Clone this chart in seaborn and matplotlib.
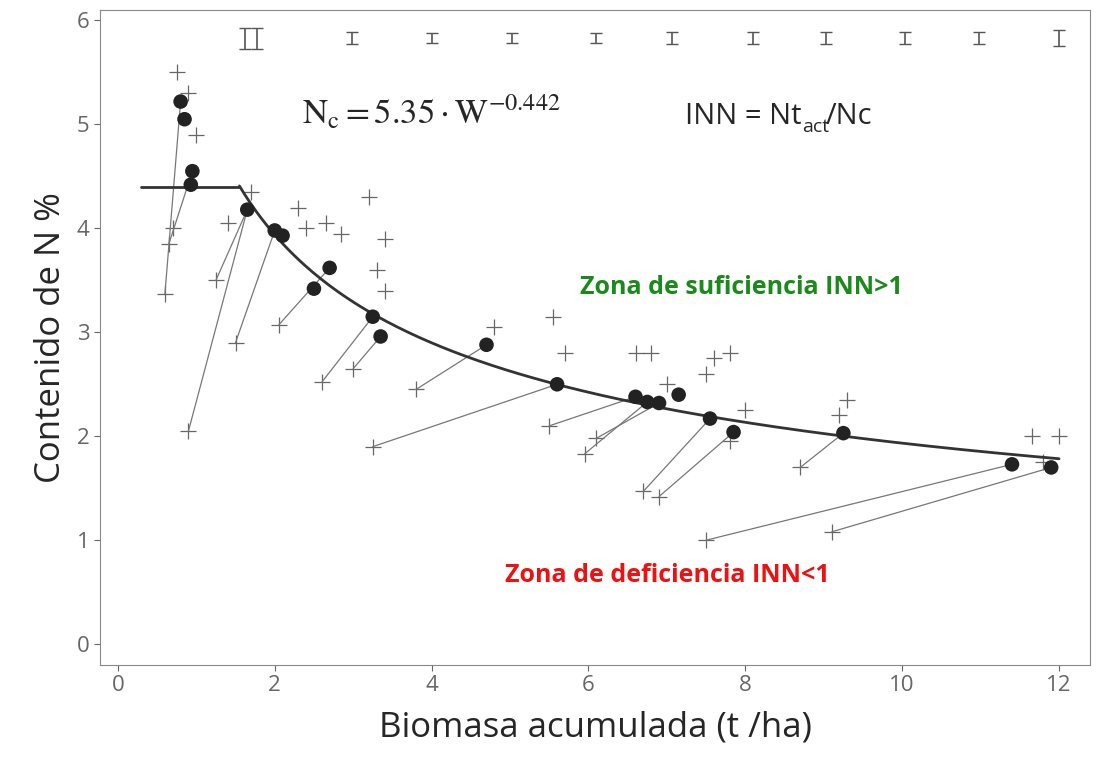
import numpy as np
import matplotlib.pyplot as plt
import seaborn as sns

# puntos medios (circulos)
dot_x = [0.8, 0.85, 0.95, 0.93, 1.65, 2.0, 2.1, 2.7, 2.5, 3.25, 3.35, 4.7, 5.6, 6.6, 6.75, 6.9, 7.15, 7.55, 7.85, 9.25, 11.4, 11.9]
dot_y = [5.22, 5.05, 4.55, 4.42, 4.18, 3.98, 3.93, 3.62, 3.42, 3.15, 2.96, 2.88, 2.5, 2.38, 2.33, 2.32, 2.4, 2.17, 2.04, 2.03, 1.73, 1.7]

# segmentos cruz -> circulo
seg_x0 = [0.6, 0.65, 0.9, 1.25, 1.5, 2.05, 2.6, 3.0, 3.8, 3.25, 5.5, 5.95, 6.1, 6.7, 6.9, 8.7, 7.5, 9.1]
seg_y0 = [3.37, 3.85, 2.05, 3.5, 2.9, 3.07, 2.52, 2.65, 2.45, 1.9, 2.1, 1.83, 1.98, 1.47, 1.42, 1.7, 1.0, 1.08]
seg_x1 = [0.8, 0.95, 1.65, 1.65, 2.0, 2.7, 3.25, 3.35, 4.7, 5.6, 6.6, 6.75, 6.9, 7.55, 7.85, 9.25, 11.4, 11.9]
seg_y1 = [5.22, 4.55, 4.18, 4.18, 3.98, 3.62, 3.15, 2.96, 2.88, 2.5, 2.38, 2.33, 2.32, 2.17, 2.04, 2.03, 1.73, 1.7]

# cruces sueltas
cr_x = [0.75, 0.9, 1.0, 0.7, 1.7, 1.4, 2.3, 2.4, 2.65, 2.85, 3.2, 3.3, 3.4, 3.4, 4.8, 5.55, 5.7, 6.6, 6.8, 7.5, 7.6, 7.8, 8.0, 7.0, 7.8, 9.3, 9.2, 11.65, 12.0, 11.8]
cr_y = [5.5, 5.3, 4.9, 4.0, 4.35, 4.05, 4.2, 4.0, 4.05, 3.95, 4.3, 3.6, 3.9, 3.4, 3.05, 3.15, 2.8, 2.8, 2.8, 2.6, 2.75, 2.8, 2.25, 2.5, 1.95, 2.35, 2.2, 2.0, 2.0, 1.75]

# barras de error arriba
eb_x = [1.62, 1.78, 2.99, 4.0, 5.03, 6.09, 7.07, 8.1, 9.03, 10.03, 10.98, 12.0]

sns.set_style('white')
plt.rcParams['font.family'] = ['Open Sans', 'DejaVu Sans']
fig = plt.figure(figsize=(10.97, 7.75), dpi=100)
ax = fig.add_axes([0.091, 0.142, 0.903, 0.845])

for a, b, c, d in zip(seg_x0, seg_y0, seg_x1, seg_y1):
    ax.plot([a, c], [b, d], color='#777777', lw=0.9)
ax.scatter(seg_x0 + cr_x, seg_y0 + cr_y, marker='+', s=140, color='#666666', linewidths=0.9)
sns.scatterplot(x=dot_x, y=dot_y, ax=ax, color='#222222', s=110, edgecolor='none', zorder=3)

w = np.linspace(1.55, 12.0, 300)
ax.plot([0.3, 1.55], [4.4, 4.4], color='#333333', lw=2)
ax.plot(w, 5.35 * w ** -0.442, color='#333333', lw=2)

ax.errorbar(eb_x, [5.83] * len(eb_x), yerr=[0.1, 0.1, 0.06, 0.05, 0.05, 0.05, 0.06, 0.06, 0.06, 0.06, 0.06, 0.08],
            fmt='none', ecolor='#555555', capsize=4, lw=1.2)

plt.rcParams['mathtext.fontset'] = 'stix'
ax.text(2.35, 5.0, r'$\mathrm{N_c = 5.35 \cdot W^{-0.442}}$', fontsize=25)
ax.text(8.72, 5.0, 'INN = Nt', fontsize=21, ha='right')
ax.text(8.72, 4.93, 'act', fontsize=14, ha='left')
ax.text(9.03, 5.0, '/Nc', fontsize=21, ha='left')
ax.text(7.95, 3.37, 'Zona de suficiencia INN>1', fontsize=18, color='#1a8a1a', weight='bold', ha='center')
ax.text(7.0, 0.6, 'Zona de deficiencia INN<1', fontsize=18, color='#ee1111', weight='bold', ha='center')

ax.set_xlim(-0.23, 12.4)
ax.set_ylim(-0.2, 6.1)
ax.set_xticks(range(0, 13, 2))
ax.set_yticks(range(0, 7))
ax.tick_params(labelsize=16, colors='#666666', direction='out', length=4, left=True, bottom=True)
for s in ax.spines.values():
    s.set_color('#888888')
ax.set_xlabel('Biomasa acumulada (t /ha)', fontsize=25, labelpad=10)
ax.set_ylabel('Contenido de N %', fontsize=25, labelpad=6)
fig.savefig('out.png', dpi=100)
